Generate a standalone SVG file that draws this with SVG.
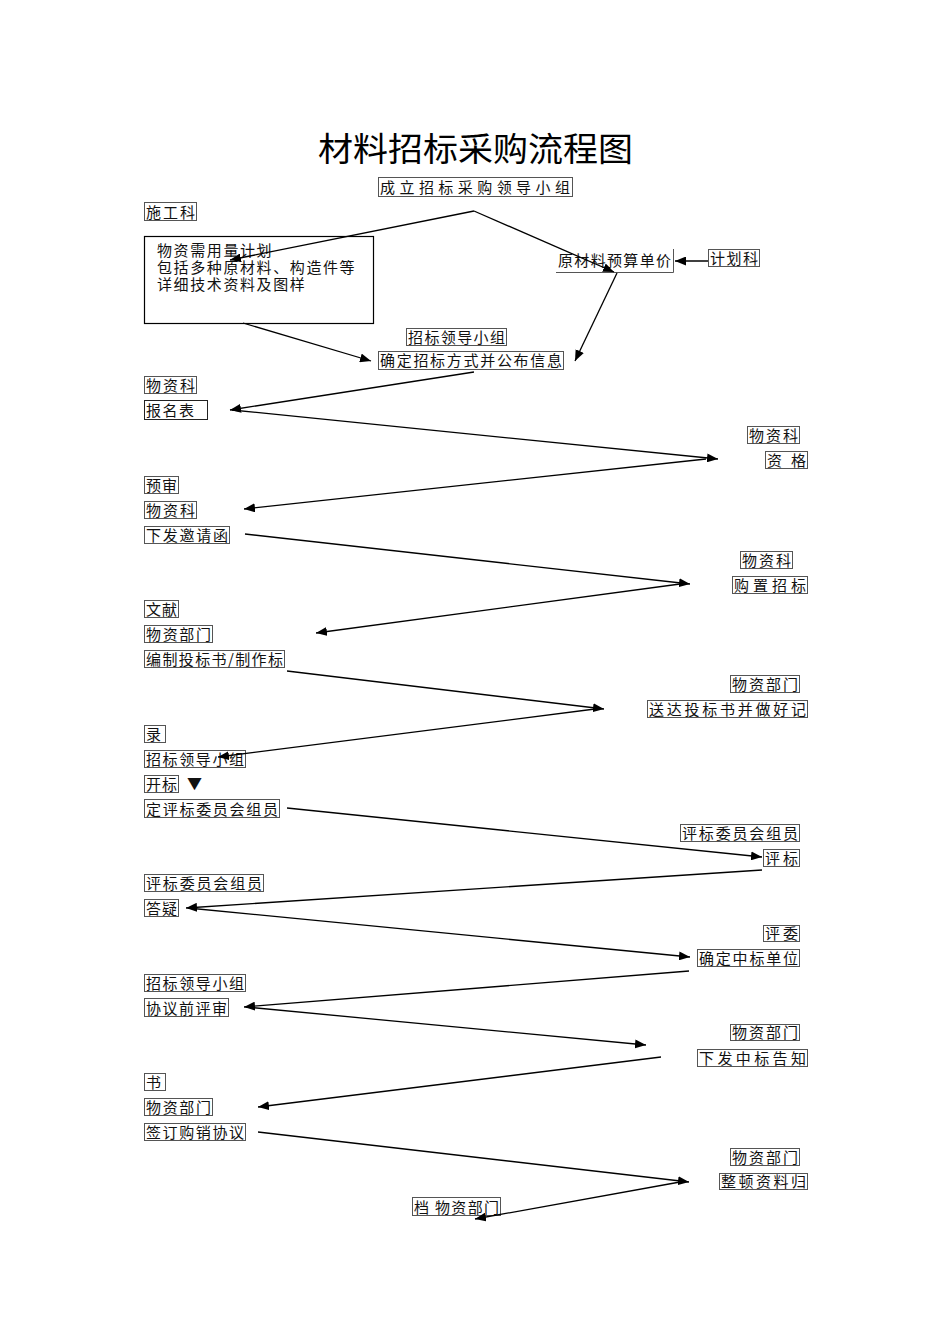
<svg xmlns="http://www.w3.org/2000/svg" width="950" height="1344" viewBox="0 0 950 1344">
<defs>
<marker id="ah" markerUnits="userSpaceOnUse" markerWidth="12" markerHeight="9" refX="11" refY="4.5" orient="auto"><path d="M0,0 L11,4.5 L0,9 z" fill="#000"/></marker>
<style>
.b{fill:none;stroke:#555;stroke-width:1}
.t{font-family:"Noto Sans CJK SC","Noto Sans CJK JP",sans-serif;font-size:15px;fill:#111}
.c line{stroke:#000;stroke-width:1.3}
.title{font-family:"Noto Sans CJK SC",sans-serif;font-size:33px;fill:#000}
</style>
</defs>
<rect width="950" height="1344" fill="#fff"/>
<text class="title" x="318" y="161" textLength="315" lengthAdjust="spacingAndGlyphs">材料招标采购流程图</text>

<g id="n1"><rect class="b" x="378.5" y="177.5" width="194" height="19"/><text class="t" x="380" y="193" textLength="190">成立招标采购领导小组</text></g>
<g id="n2"><rect class="b" x="144.5" y="202.5" width="52" height="18"/><text class="t" x="146" y="218" textLength="49">施工科</text></g>
<g id="n3"><rect x="144.5" y="236.5" width="229" height="87" fill="none" stroke="#000" stroke-width="1.2"/>
<text class="t" letter-spacing="1.6"><tspan x="157" y="256">物资需用量计划</tspan><tspan x="157" y="273">包括多种原材料、构造件等</tspan><tspan x="157" y="290">详细技术资料及图样</tspan></text></g>
<g id="n4"><path class="b" d="M556,272.5 H673.5 V249"/><text class="t" x="558" y="266" textLength="113">原材料预算单价</text></g>
<g id="n5"><rect class="b" x="708.5" y="249.5" width="51" height="17"/><text class="t" x="710" y="264" textLength="48">计划科</text></g>
<g id="n6"><rect class="b" x="406.5" y="328.5" width="100" height="17"/><text class="t" x="408" y="343" textLength="97">招标领导小组</text></g>
<g id="n7"><rect class="b" x="378.5" y="351.5" width="185" height="18"/><text class="t" x="380" y="366" textLength="182">确定招标方式并公布信息</text></g>
<g id="n8"><rect class="b" x="144.5" y="376.5" width="52" height="17"/><text class="t" x="146" y="391" textLength="49">物资科</text></g>
<g id="n9"><rect x="144.5" y="400.5" width="63" height="19" fill="none" stroke="#222"/><text class="t" x="146" y="416" textLength="48">报名表</text></g>
<g id="n10"><rect class="b" x="747.5" y="426.5" width="52" height="17"/><text class="t" x="749" y="441" textLength="49">物资科</text></g>
<g id="n11"><rect class="b" x="765.5" y="451.5" width="42" height="17"/><text class="t" x="767" y="466" textLength="39">资 格</text></g>
<g id="n12"><rect class="b" x="144.5" y="476.5" width="34" height="17"/><text class="t" x="146" y="491" textLength="31">预审</text></g>
<g id="n13"><rect class="b" x="144.5" y="501.5" width="52" height="17"/><text class="t" x="146" y="516" textLength="49">物资科</text></g>
<g id="n14"><rect class="b" x="144.5" y="526.5" width="85" height="17"/><text class="t" x="146" y="541" textLength="82">下发邀请函</text></g>
<g id="n15"><rect class="b" x="740.5" y="551.5" width="52" height="17"/><text class="t" x="742" y="566" textLength="49">物资科</text></g>
<g id="n16"><rect class="b" x="732.5" y="576.5" width="75" height="17"/><text class="t" x="734" y="591" textLength="72">购置招标</text></g>
<g id="n17"><rect class="b" x="144.5" y="600.5" width="34" height="17"/><text class="t" x="146" y="615" textLength="31">文献</text></g>
<g id="n18"><rect class="b" x="144.5" y="625.5" width="68" height="17"/><text class="t" x="146" y="640" textLength="65">物资部门</text></g>
<g id="n19"><rect class="b" x="144.5" y="650.5" width="140" height="17"/><text class="t" x="146" y="665" textLength="137">编制投标书/制作标</text></g>
<g id="n20"><rect class="b" x="730.5" y="675.5" width="69" height="17"/><text class="t" x="732" y="690" textLength="66">物资部门</text></g>
<g id="n21"><rect class="b" x="647.5" y="700.5" width="160" height="17"/><text class="t" x="649" y="715" textLength="157">送达投标书并做好记</text></g>
<g id="n22"><rect class="b" x="144.5" y="725.5" width="21" height="17"/><text class="t" x="146" y="740">录</text></g>
<g id="n23"><rect class="b" x="144.5" y="750.5" width="101" height="17"/><text class="t" x="146" y="765" textLength="98">招标领导小组</text></g>
<g id="n24"><rect class="b" x="144.5" y="775.5" width="34" height="17"/><text class="t" x="146" y="790" textLength="31">开标</text><text class="t" x="187" y="789" font-size="14">▼</text></g>
<g id="n25"><rect class="b" x="144.5" y="799.5" width="135" height="18"/><text class="t" x="146" y="815" textLength="132">定评标委员会组员</text></g>
<g id="n26"><rect class="b" x="680.5" y="824.5" width="119" height="17"/><text class="t" x="682" y="839" textLength="116">评标委员会组员</text></g>
<g id="n27"><rect class="b" x="763.5" y="849.5" width="36" height="17"/><text class="t" x="765" y="864" textLength="33">评标</text></g>
<g id="n28"><rect class="b" x="144.5" y="874.5" width="119" height="17"/><text class="t" x="146" y="889" textLength="116">评标委员会组员</text></g>
<g id="n29"><rect class="b" x="144.5" y="899.5" width="34" height="17"/><text class="t" x="146" y="914" textLength="31">答疑</text></g>
<g id="n30"><rect class="b" x="763.5" y="925.5" width="36" height="16"/><text class="t" x="765" y="939" textLength="33">评委</text></g>
<g id="n31"><rect class="b" x="697.5" y="949.5" width="102" height="17"/><text class="t" x="699" y="964" textLength="99">确定中标单位</text></g>
<g id="n32"><rect class="b" x="144.5" y="974.5" width="101" height="17"/><text class="t" x="146" y="989" textLength="98">招标领导小组</text></g>
<g id="n33"><rect class="b" x="144.5" y="998.5" width="84" height="18"/><text class="t" x="146" y="1014" textLength="81">协议前评审</text></g>
<g id="n34"><rect class="b" x="730.5" y="1024.5" width="69" height="16"/><text class="t" x="732" y="1038" textLength="66">物资部门</text></g>
<g id="n35"><rect class="b" x="697.5" y="1049.5" width="110" height="17"/><text class="t" x="699" y="1064" textLength="107">下发中标告知</text></g>
<g id="n36"><rect class="b" x="144.5" y="1073.5" width="21" height="17"/><text class="t" x="146" y="1088">书</text></g>
<g id="n37"><rect class="b" x="144.5" y="1098.5" width="68" height="17"/><text class="t" x="146" y="1113" textLength="65">物资部门</text></g>
<g id="n38"><rect class="b" x="144.5" y="1123.5" width="101" height="17"/><text class="t" x="146" y="1138" textLength="98">签订购销协议</text></g>
<g id="n39"><rect class="b" x="730.5" y="1148.5" width="69" height="17"/><text class="t" x="732" y="1163" textLength="66">物资部门</text></g>
<g id="n40"><rect class="b" x="719.5" y="1173.5" width="88" height="16"/><text class="t" x="721" y="1187" textLength="85">整顿资料归</text></g>
<g id="n41"><rect class="b" x="412.5" y="1197.5" width="88" height="18"/><text class="t" x="414" y="1213" textLength="85">档 物资部门</text></g>

<g id="connectors" class="c">
<line x1="474" y1="211" x2="230" y2="260" marker-end="url(#ah)"/>
<line x1="474" y1="211" x2="614" y2="272" marker-end="url(#ah)"/>
<line x1="617" y1="273" x2="575" y2="361" marker-end="url(#ah)"/>
<line x1="243" y1="323" x2="371" y2="361" marker-end="url(#ah)"/>
<line x1="708" y1="261" x2="675" y2="261" marker-end="url(#ah)"/>
<line x1="474" y1="372" x2="230" y2="410" marker-end="url(#ah)"/>
<line x1="232" y1="410" x2="718" y2="459" marker-end="url(#ah)"/>
<line x1="706" y1="459" x2="244" y2="509" marker-end="url(#ah)"/>
<line x1="245" y1="534" x2="690" y2="584" marker-end="url(#ah)"/>
<line x1="680" y1="584" x2="316" y2="633" marker-end="url(#ah)"/>
<line x1="287" y1="671" x2="604" y2="709" marker-end="url(#ah)"/>
<line x1="595" y1="709" x2="218" y2="757" marker-end="url(#ah)"/>
<line x1="287" y1="808" x2="762" y2="857" marker-end="url(#ah)"/>
<line x1="762" y1="870" x2="186" y2="908" marker-end="url(#ah)"/>
<line x1="188" y1="908" x2="690" y2="957" marker-end="url(#ah)"/>
<line x1="689" y1="971" x2="244" y2="1007" marker-end="url(#ah)"/>
<line x1="246" y1="1007" x2="646" y2="1045" marker-end="url(#ah)"/>
<line x1="661" y1="1057" x2="258" y2="1107" marker-end="url(#ah)"/>
<line x1="258" y1="1132" x2="689" y2="1182" marker-end="url(#ah)"/>
<line x1="680" y1="1182" x2="475" y2="1219" marker-end="url(#ah)"/>
</g>
</svg>
